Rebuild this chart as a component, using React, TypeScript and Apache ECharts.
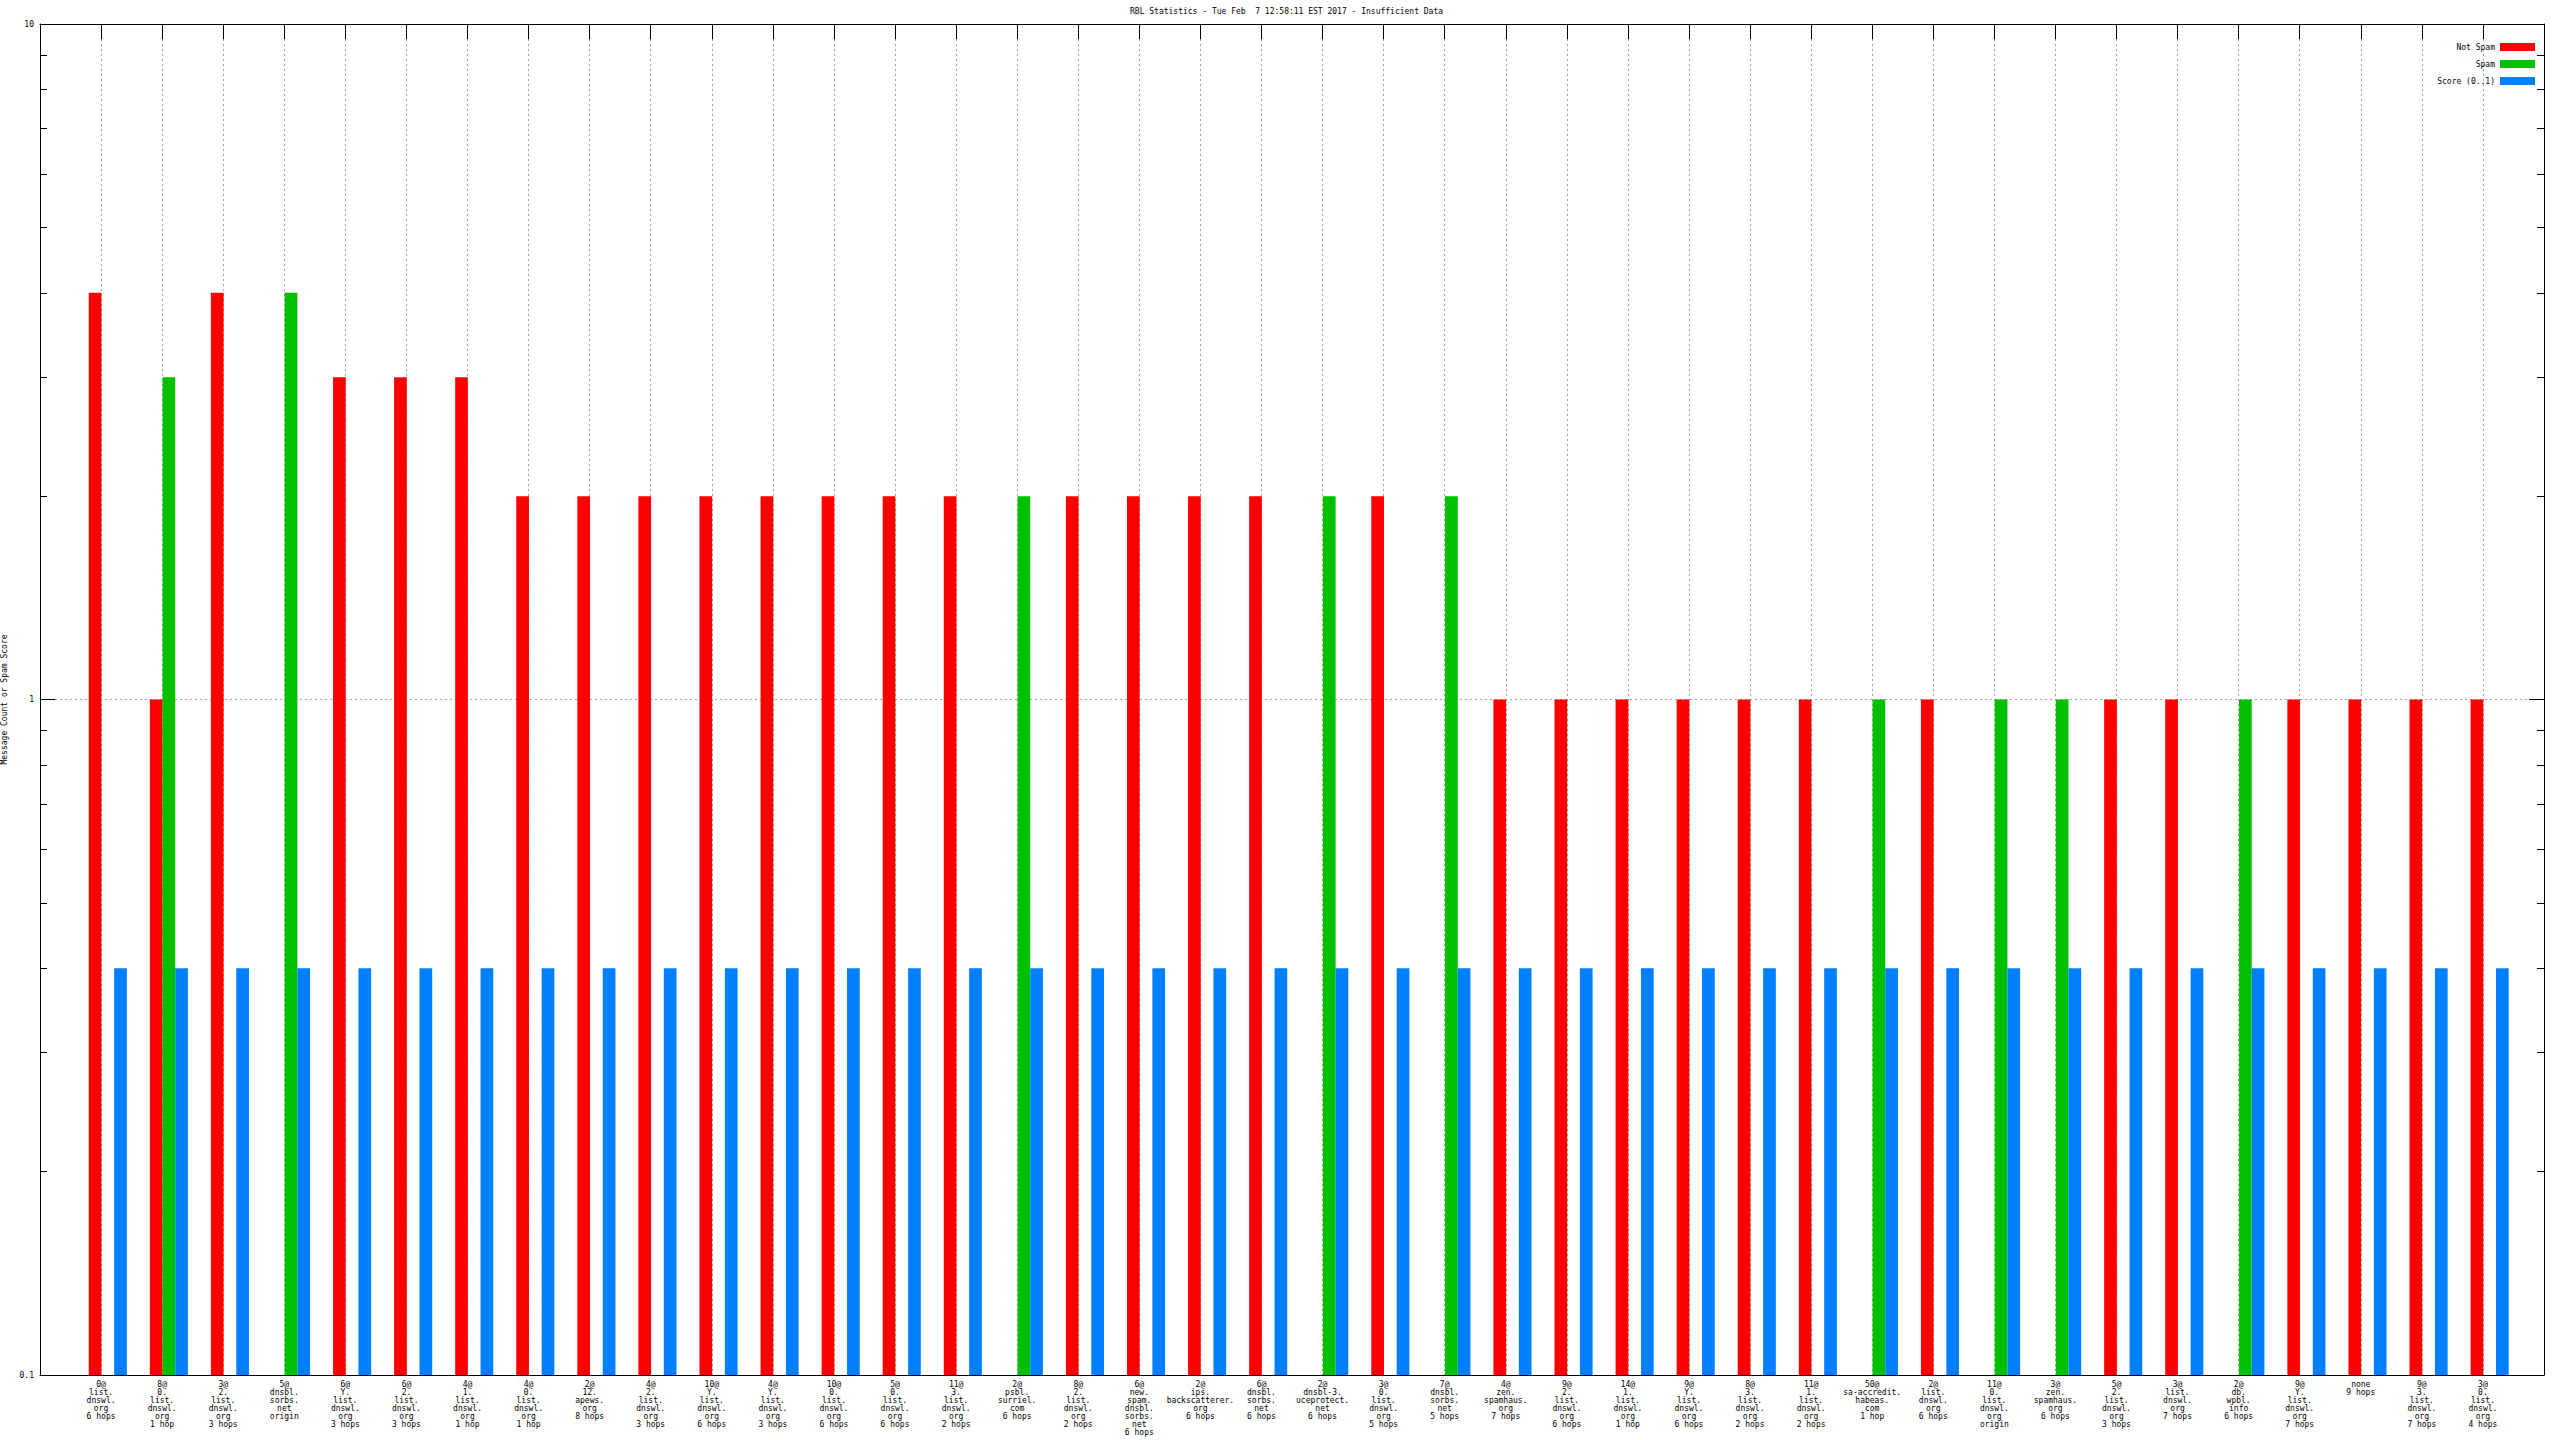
import React, { useEffect, useRef } from "react";
import * as echarts from "echarts";

const titleText = "RBL Statistics - Tue Feb  7 12:58:11 EST 2017 - Insufficient Data";
const yAxisName = "Message Count or Spam Score";
const seriesNames = ["Not Spam", "Spam", "Score (0..1)"];

const categories = [
  "0@\nlist.\ndnswl.\norg\n6 hops",
  "8@\n0.\nlist.\ndnswl.\norg\n1 hop",
  "3@\n2.\nlist.\ndnswl.\norg\n3 hops",
  "5@\ndnsbl.\nsorbs.\nnet\norigin",
  "6@\nY.\nlist.\ndnswl.\norg\n3 hops",
  "6@\n2.\nlist.\ndnswl.\norg\n3 hops",
  "4@\n1.\nlist.\ndnswl.\norg\n1 hop",
  "4@\n0.\nlist.\ndnswl.\norg\n1 hop",
  "2@\n12.\napews.\norg\n8 hops",
  "4@\n2.\nlist.\ndnswl.\norg\n3 hops",
  "10@\nY.\nlist.\ndnswl.\norg\n6 hops",
  "4@\nY.\nlist.\ndnswl.\norg\n3 hops",
  "10@\n0.\nlist.\ndnswl.\norg\n6 hops",
  "5@\n0.\nlist.\ndnswl.\norg\n6 hops",
  "11@\n3.\nlist.\ndnswl.\norg\n2 hops",
  "2@\npsbl.\nsurriel.\ncom\n6 hops",
  "8@\n2.\nlist.\ndnswl.\norg\n2 hops",
  "6@\nnew.\nspam.\ndnsbl.\nsorbs.\nnet\n6 hops",
  "2@\nips.\nbackscatterer.\norg\n6 hops",
  "6@\ndnsbl.\nsorbs.\nnet\n6 hops",
  "2@\ndnsbl-3.\nuceprotect.\nnet\n6 hops",
  "3@\n0.\nlist.\ndnswl.\norg\n5 hops",
  "7@\ndnsbl.\nsorbs.\nnet\n5 hops",
  "4@\nzen.\nspamhaus.\norg\n7 hops",
  "9@\n2.\nlist.\ndnswl.\norg\n6 hops",
  "14@\n1.\nlist.\ndnswl.\norg\n1 hop",
  "9@\nY.\nlist.\ndnswl.\norg\n6 hops",
  "8@\n3.\nlist.\ndnswl.\norg\n2 hops",
  "11@\n1.\nlist.\ndnswl.\norg\n2 hops",
  "50@\nsa-accredit.\nhabeas.\ncom\n1 hop",
  "2@\nlist.\ndnswl.\norg\n6 hops",
  "11@\n0.\nlist.\ndnswl.\norg\norigin",
  "3@\nzen.\nspamhaus.\norg\n6 hops",
  "5@\n2.\nlist.\ndnswl.\norg\n3 hops",
  "3@\nlist.\ndnswl.\norg\n7 hops",
  "2@\ndb.\nwpbl.\ninfo\n6 hops",
  "9@\nY.\nlist.\ndnswl.\norg\n7 hops",
  "none\n9 hops",
  "9@\n3.\nlist.\ndnswl.\norg\n7 hops",
  "3@\n0.\nlist.\ndnswl.\norg\n4 hops",
];

const notSpam = [
  4, 1, 4, null, 3, 3, 3, 2, 2, 2,
  2, 2, 2, 2, 2, null, 2, 2, 2, 2,
  null, 2, null, 1, 1, 1, 1, 1, 1, null,
  1, null, null, 1, 1, null, 1, 1, 1, 1,
];

const spam = [
  null, 3, null, 4, null, null, null, null, null, null,
  null, null, null, null, null, 2, null, null, null, null,
  2, null, 2, null, null, null, null, null, null, 1,
  null, 1, 1, null, null, 1, null, null, null, null,
];

const score = [
  0.4, 0.4, 0.4, 0.4, 0.4, 0.4, 0.4, 0.4, 0.4, 0.4,
  0.4, 0.4, 0.4, 0.4, 0.4, 0.4, 0.4, 0.4, 0.4, 0.4,
  0.4, 0.4, 0.4, 0.4, 0.4, 0.4, 0.4, 0.4, 0.4, 0.4,
  0.4, 0.4, 0.4, 0.4, 0.4, 0.4, 0.4, 0.4, 0.4, 0.4,
];

const yMinorTicks = [0.2, 0.3, 0.4, 0.5, 0.6, 0.7, 0.8, 0.9, 2, 3, 4, 5, 6, 7, 8, 9];

const FONT = "DejaVu Sans Mono";
const colors = ["#ff0000", "#00c000", "#0080ff"];

function toPairs(arr: (number | null)[]) {
  const out: [number, number][] = [];
  arr.forEach((v, i) => {
    if (v !== null && v !== undefined) out.push([i, v]);
  });
  return out;
}

export default function App() {
  const ref = useRef<HTMLDivElement>(null);
  useEffect(() => {
    if (!ref.current) return;
    const chart = echarts.init(ref.current, undefined, { renderer: "svg" });
    const ls = () => ({ color: "#000", width: 1 });
    const gridLine = () => ({
      show: true,
      lineStyle: { color: "#a0a0a0", type: [2, 3] as any, width: 1 },
      showMinLine: false,
      showMaxLine: false,
    });
    const n = categories.length;
    const gridRect = () => ({ left: 40, right: 16, top: 24, bottom: 65, containLabel: false, outerBoundsMode: "none" });
    const logAxis = { type: "log", logBase: 10, min: 0.1, max: 10 };
    const option: any = {
      animation: false,
      backgroundColor: "#fff",
      textStyle: { fontFamily: FONT, fontSize: 8, color: "#000" },
      title: {
        text: titleText,
        left: 1130,
        top: 7,
        padding: 0,
        textStyle: { fontFamily: FONT, fontSize: 8, fontWeight: "normal", color: "#000", lineHeight: 9 },
      },
      legend: {
        data: seriesNames,
        orient: "vertical",
        right: 25,
        top: 42,
        align: "right",
        icon: "rect",
        itemWidth: 35,
        itemHeight: 8,
        itemGap: 7,
        padding: 0,
        textStyle: { fontFamily: FONT, fontSize: 8, color: "#000", lineHeight: 10 },
      },
      grid: [gridRect(), gridRect(), gridRect()],
      xAxis: [
        {
          type: "value",
          gridIndex: 0,
          position: "bottom",
          min: -1,
          max: n,
          interval: 1,
          axisLine: { show: true, onZero: false, lineStyle: ls() },
          axisTick: { show: false },
          axisLabel: {
            show: true,
            margin: 5,
            fontFamily: FONT,
            fontSize: 8,
            lineHeight: 8,
            color: "#000",
            formatter: (v: number) => (Number.isInteger(v) && v >= 0 && v < n ? categories[v] : ""),
          },
          splitLine: gridLine(),
        },
        {
          type: "value",
          gridIndex: 0,
          position: "top",
          min: -1,
          max: n,
          interval: 1,
          axisLine: { show: true, onZero: false, lineStyle: ls() },
          axisTick: { show: true, inside: true, length: 15, lineStyle: ls() },
          axisLabel: { show: false },
          splitLine: { show: false },
        },
        {
          type: "value",
          gridIndex: 1,
          position: "bottom",
          min: -1.11,
          max: n - 0.11,
          show: false,
          axisLine: { show: false, onZero: false },
          splitLine: { show: false },
        },
        {
          type: "value",
          gridIndex: 2,
          position: "bottom",
          min: -1,
          max: n,
          show: false,
          axisLine: { show: false, onZero: false },
          splitLine: { show: false },
        },
      ],
      yAxis: [
        {
          ...logAxis,
          gridIndex: 0,
          position: "left",
          name: yAxisName,
          nameLocation: "middle",
          nameGap: 28,
          nameTextStyle: { fontFamily: FONT, fontSize: 8, color: "#000" },
          axisLine: { show: true, onZero: false, lineStyle: ls() },
          axisTick: { show: true, inside: true, length: 15, lineStyle: ls() },
          axisLabel: { show: true, margin: 6, fontFamily: FONT, fontSize: 8, color: "#000" },
          splitLine: gridLine(),
        },
        {
          ...logAxis,
          gridIndex: 0,
          position: "right",
          axisLine: { show: true, onZero: false, lineStyle: ls() },
          axisTick: { show: true, inside: true, length: 15, lineStyle: ls() },
          axisLabel: { show: false },
          splitLine: { show: false },
        },
        {
          ...logAxis,
          gridIndex: 1,
          position: "left",
          startValue: 0.1,
          axisLine: { show: false, onZero: false },
          axisTick: { show: true, inside: true, length: 7, lineStyle: ls(), customValues: yMinorTicks },
          axisLabel: { show: false },
          splitLine: { show: false },
        },
        {
          ...logAxis,
          gridIndex: 1,
          position: "right",
          axisLine: { show: false, onZero: false },
          axisTick: { show: true, inside: true, length: 7, lineStyle: ls(), customValues: yMinorTicks },
          axisLabel: { show: false },
          splitLine: { show: false },
        },
        {
          ...logAxis,
          gridIndex: 2,
          position: "left",
          axisLine: { show: false, onZero: false },
          axisTick: { show: true, inside: true, length: 7, lineStyle: ls(), customValues: yMinorTicks },
          axisLabel: { show: false },
          splitLine: { show: false },
        },
      ],
      series: [notSpam, spam, score].map((arr, k) => ({
        name: seriesNames[k],
        type: "bar",
        xAxisIndex: 2,
        yAxisIndex: 2,
        barWidth: 12.7,
        barGap: "0%",
        itemStyle: { color: colors[k] },
        data: toPairs(arr),
      })),
    };
    chart.setOption(option);
    return () => chart.dispose();
  }, []);
  return (
    <div
      ref={ref}
      style={{ position: "fixed", left: 0, top: 0, width: 2560, height: 1440, background: "#fff" }}
    />
  );
}
